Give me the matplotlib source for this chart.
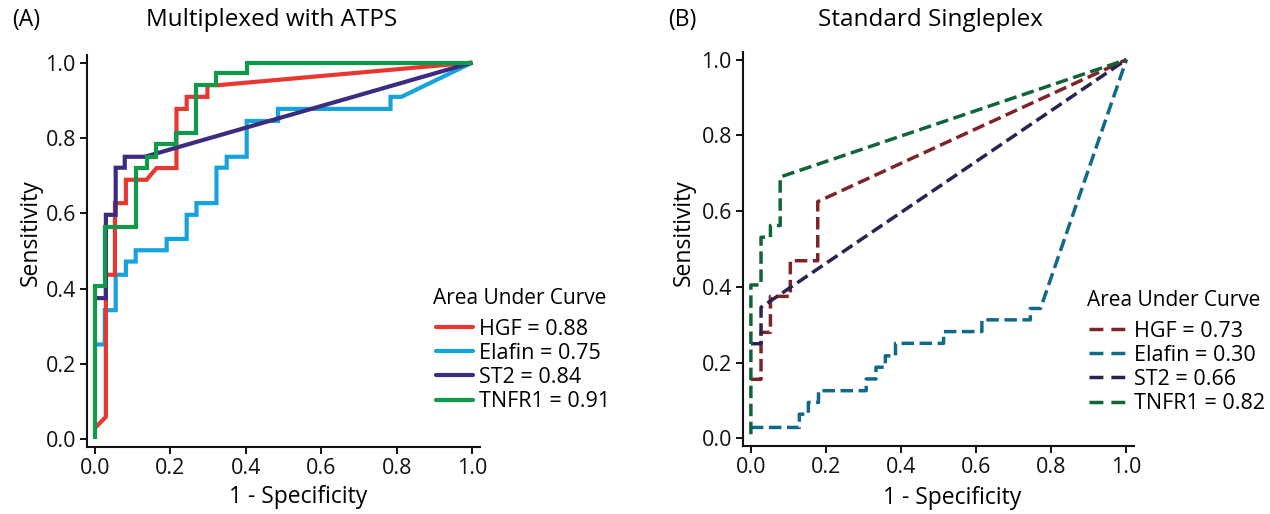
import matplotlib
matplotlib.use("Agg")
import matplotlib.pyplot as plt
from matplotlib.lines import Line2D

plt.rcParams['font.family'] = ['Open Sans', 'DejaVu Sans']

# ---------------- data: panel A (Multiplexed with ATPS) ----------------
labels_a = ["HGF = 0.88", "Elafin = 0.75", "ST2 = 0.84", "TNFR1 = 0.91"]
hgf_a_x = [0, 0.029, 0.029, 0.053, 0.053, 0.082, 0.082, 0.137, 0.163, 0.216, 0.216,
           0.243, 0.243, 0.298, 0.298, 0.327, 1.0]
hgf_a_y = [0.03, 0.06, 0.437, 0.437, 0.627, 0.627, 0.689, 0.689, 0.72, 0.72, 0.877,
           0.877, 0.909, 0.909, 0.94, 0.94, 1.0]
elafin_a_x = [0, 0.026, 0.026, 0.055, 0.055, 0.082, 0.082, 0.108, 0.108, 0.190, 0.190,
              0.243, 0.243, 0.269, 0.269, 0.322, 0.322, 0.349, 0.349, 0.402, 0.402,
              0.485, 0.485, 0.783, 0.783, 0.812, 1.0]
elafin_a_y = [0.252, 0.252, 0.343, 0.343, 0.437, 0.437, 0.472, 0.472, 0.502, 0.502, 0.532,
              0.532, 0.596, 0.596, 0.627, 0.627, 0.721, 0.721, 0.75, 0.75, 0.845,
              0.845, 0.877, 0.877, 0.909, 0.909, 1.0]
st2_a_x = [0, 0.029, 0.029, 0.055, 0.055, 0.079, 0.079, 0.132, 1.0]
st2_a_y = [0.375, 0.375, 0.596, 0.596, 0.721, 0.721, 0.75, 0.75, 1.0]
tnfr1_a_x = [0, 0, 0.026, 0.026, 0.110, 0.110, 0.137, 0.137, 0.162, 0.162, 0.216, 0.216,
             0.269, 0.269, 0.322, 0.322, 0.402, 0.402, 1.0]
tnfr1_a_y = [0, 0.406, 0.406, 0.563, 0.563, 0.721, 0.721, 0.75, 0.75, 0.783, 0.783, 0.814,
             0.814, 0.94, 0.94, 0.971, 0.971, 1.0, 1.0]

# ---------------- data: panel B (Standard Singleplex) ----------------
labels_b = ["HGF = 0.73", "Elafin = 0.30", "ST2 = 0.66", "TNFR1 = 0.82"]
hgf_b_x = [0, 0.027, 0.027, 0.052, 0.052, 0.105, 0.105, 0.178, 0.178, 1.0]
hgf_b_y = [0.156, 0.156, 0.28, 0.28, 0.375, 0.375, 0.469, 0.469, 0.625, 1.0]
elafin_b_x = [0, 0.129, 0.129, 0.153, 0.153, 0.18, 0.18, 0.307, 0.307, 0.333, 0.333,
              0.358, 0.358, 0.385, 0.385, 0.513, 0.513, 0.615, 0.615, 0.744, 0.744, 0.771, 1.0]
elafin_b_y = [0.029, 0.029, 0.064, 0.064, 0.095, 0.095, 0.126, 0.126, 0.157, 0.157, 0.188,
              0.188, 0.218, 0.218, 0.251, 0.251, 0.282, 0.282, 0.313, 0.313, 0.343, 0.343, 1.0]
st2_b_x = [0, 0.027, 0.027, 1.0]
st2_b_y = [0.25, 0.25, 0.346, 1.0]
tnfr1_b_x = [0, 0, 0.027, 0.027, 0.052, 0.052, 0.078, 0.078, 1.0]
tnfr1_b_y = [0.011, 0.405, 0.405, 0.531, 0.531, 0.562, 0.562, 0.69, 1.0]

ticks = [0.0, 0.2, 0.4, 0.6, 0.8, 1.0]
tick_labels = ["0.0", "0.2", "0.4", "0.6", "0.8", "1.0"]

colors_a = ["#E8372F", "#14A3DC", "#3D2B7F", "#0E9A48"]
colors_b = ["#7E2426", "#11698A", "#2B2152", "#0F6535"]

W, H = 1270, 514
fig = plt.figure(figsize=(W / 100, H / 100), dpi=100)

def fx(px):
    return px / W

def fy(py):
    return 1 - py / H

ax_a = fig.add_axes([fx(87), fy(447), fx(480) - fx(87), fy(55) - fy(447)])
ax_b = fig.add_axes([fx(743), fy(446), fx(1134) - fx(743), fy(52) - fy(446)])

FS = 15.5

def style(ax):
    ax.set_xlim(-0.021, 1.02)
    ax.set_ylim(-0.02, 1.02)
    for s in ["top", "right"]:
        ax.spines[s].set_visible(False)
    for s in ["left", "bottom"]:
        ax.spines[s].set_linewidth(1.5)
        ax.spines[s].set_color("#111111")
    ax.set_xticks(ticks)
    ax.set_xticklabels(tick_labels)
    ax.set_yticks(ticks)
    ax.set_yticklabels(tick_labels)
    ax.tick_params(direction="out", length=5, width=1.4, labelsize=FS, colors="#111111", pad=3)
    ax.set_xlabel("1 - Specificity", fontsize=FS + 1)
    ax.set_ylabel("Sensitivity", fontsize=FS + 1)

style(ax_a)
style(ax_b)
ax_a.xaxis.set_label_coords(0.536, -0.128)
ax_a.yaxis.set_label_coords(-0.142, 0.548)
ax_b.xaxis.set_label_coords(0.534, -0.133)
ax_b.yaxis.set_label_coords(-0.151, 0.542)
for ax in (ax_a, ax_b):
    ax.xaxis.label.set_va("center")
    ax.yaxis.label.set_va("center")

# panel A lines
series_a = [(hgf_a_x, hgf_a_y), (elafin_a_x, elafin_a_y), (st2_a_x, st2_a_y), (tnfr1_a_x, tnfr1_a_y)]
zord_a = [3, 2, 4, 5]
for (x, y), c, lab, z in zip(series_a, colors_a, labels_a, zord_a):
    ax_a.plot(x, y, color=c, lw=3.0, label=lab, zorder=z, solid_joinstyle="miter",
              solid_capstyle="butt", clip_on=False)

# panel B lines
series_b = [(hgf_b_x, hgf_b_y), (elafin_b_x, elafin_b_y), (st2_b_x, st2_b_y), (tnfr1_b_x, tnfr1_b_y)]
zord_b = [3, 2, 4, 5]
for (x, y), c, lab, z in zip(series_b, colors_b, labels_b, zord_b):
    ax_b.plot(x, y, color=c, lw=2.5, label=lab, zorder=z, linestyle=(0, (3.6, 1.6)),
              clip_on=False)

# legends (title drawn separately for exact spacing)
fig.text(fx(433), fy(298), "Area Under Curve", fontsize=FS - 0.5, ha="left", va="center")
h_a = [Line2D([], [], color=c, lw=3.0, solid_capstyle="round") for c in colors_a]
fig.legend(h_a, labels_a, loc="upper left",
           bbox_to_anchor=(fx(436), fy(319)), bbox_transform=fig.transFigure,
           frameon=False, fontsize=FS, borderpad=0,
           borderaxespad=0, handlelength=1.7, handletextpad=0.3, labelspacing=0.14)

fig.text(fx(1087), fy(300), "Area Under Curve", fontsize=FS - 0.5, ha="left", va="center")
h_b = [Line2D([], [], color=c, lw=2.5, linestyle=(0, (4.0, 2.3))) for c in colors_b]
fig.legend(h_b, labels_b, loc="upper left",
           bbox_to_anchor=(fx(1089), fy(321)), bbox_transform=fig.transFigure,
           frameon=False, fontsize=FS, borderpad=0,
           borderaxespad=0, handlelength=1.8, handletextpad=0.3, labelspacing=0.14)

# titles
fig.text(fx(12), fy(20), "(A)", fontsize=FS + 1, ha="left", va="center")
fig.text(fx(272), fy(20), "Multiplexed with ATPS", fontsize=FS + 2, ha="center", va="center")
fig.text(fx(668), fy(20), "(B)", fontsize=FS + 1, ha="left", va="center")
fig.text(fx(930), fy(20), "Standard Singleplex", fontsize=FS + 2, ha="center", va="center")

fig.savefig("out.png", dpi=100)
